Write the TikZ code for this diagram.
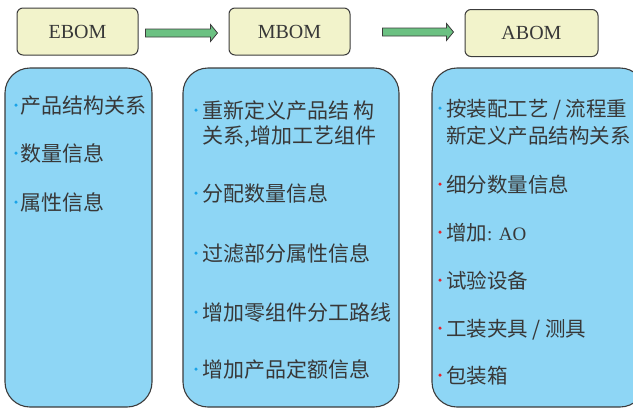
\documentclass[tikz,border=0pt]{standalone}
\usepackage{fontspec}
\setmainfont{Liberation Serif}
\newfontfamily\cjk{Noto Sans CJK SC}
\usetikzlibrary{calc}
\definecolor{boxblue}{HTML}{8ED6F5}
\definecolor{boxyellow}{HTML}{F2F3CB}
\definecolor{arrowgreen}{HTML}{6BC182}
\definecolor{edgegray}{HTML}{3C3C3C}
\definecolor{txtgray}{HTML}{383838}
\definecolor{dotblue}{HTML}{1AA3E8}
\definecolor{dotred}{HTML}{E8202A}
\begin{document}
\begin{tikzpicture}[x=1pt,y=-1pt,
 titlebox/.style={draw=edgegray, line width=1pt, fill=boxyellow, rounded corners=6pt, minimum height=47pt, inner sep=0pt, font=\fontsize{20}{20}\selectfont, text=txtgray},
 panel/.style={draw=edgegray, line width=1.1pt, fill=boxblue, rounded corners=25pt, inner sep=0pt},
 item/.style={anchor=base west, inner sep=0pt, font=\cjk\fontsize{21}{21}\selectfont, text=txtgray},
 ritem/.style={item, font=\cjk\fontsize{20.5}{20.5}\selectfont},
 bdot/.style={circle, fill=dotblue, inner sep=0pt, minimum size=3.5pt},
 rdot/.style={circle, fill=dotred, inner sep=0pt, minimum size=3.5pt},
 flow/.style={draw=edgegray, line width=0.8pt, fill=arrowgreen, line join=miter}]
\useasboundingbox (0,0) rectangle (633,408);

% title boxes
\node[titlebox, minimum width=121pt] (e) at (77.5,31.5) {EBOM};
\node[titlebox, minimum width=121pt] (m) at (289.5,31.5) {MBOM};
\node[titlebox, minimum width=133pt] (a) at (531.5,33) {ABOM};

% arrows
\draw[flow] ($(e.east)+(7,-2.5)$) -- ++(65,0) -- ++(0,-4.5) -- ++(7,8.5) -- ++(-7,8.5) -- ++(0,-4.5) -- ++(-65,0) -- cycle;
\draw[flow] ($(m.east)+(32,-3.5)$) -- ++(64,0) -- ++(0,-4.5) -- ++(7,8.5) -- ++(-7,8.5) -- ++(0,-4.5) -- ++(-64,0) -- cycle;

% panels
\node[panel, minimum width=147pt, minimum height=339pt] (p1) at (78.5,237.5) {};
\node[panel, minimum width=216pt, minimum height=339pt] (p2) at (291,237.5) {};
\node[panel, minimum width=213pt, minimum height=339pt] (p3) at (538.5,237.5) {};

% left panel items
\node[bdot] (d11) at (16,105) {};
\node[item] (t11) at (20,113) {产品结构关系};
\node[bdot] (d12) at (16,153) {};
\node[item] (t12) at (20,161) {数量信息};
\node[bdot] (d13) at (16,202) {};
\node[item] (t13) at (20,210) {属性信息};

% middle panel items
\node[bdot] (d21) at (196,110) {};
\node[item] (t21a) at (202,118) {重新定义产品结 构};
\node[item] (t21b) at (202,143) {关系,增加工艺组件};
\node[bdot] (d22) at (196,193) {};
\node[item] (t22) at (202,201) {分配数量信息};
\node[bdot] (d23) at (196,253) {};
\node[item] (t23) at (202,261) {过滤部分属性信息};
\node[bdot] (d24) at (196,312) {};
\node[item] (t24) at (202,320) {增加零组件分工路线};
\node[bdot] (d25) at (196,369) {};
\node[item] (t25) at (202,377) {增加产品定额信息};

% right panel items
\node[bdot] (d31) at (440,108) {};
\node[ritem] (t31a) at (446,116) {按装配工艺 / 流程重};
\node[ritem] (t31b) at (446,143) {新定义产品结构关系};
\node[rdot] (d32) at (440,184) {};
\node[ritem] (t32) at (446,192) {细分数量信息};
\node[rdot] (d33) at (440,232) {};
\node[ritem] (t33) at (446,240) {增加{\rmfamily\fontsize{19}{19}\selectfont : AO}};
\node[rdot] (d34) at (440,280) {};
\node[ritem] (t34) at (446,288) {试验设备};
\node[rdot] (d35) at (440,328) {};
\node[ritem] (t35) at (446,336) {工装夹具 / 测具};
\node[rdot] (d36) at (440,375) {};
\node[ritem] (t36) at (446,383) {包装箱};
\end{tikzpicture}
\end{document}
